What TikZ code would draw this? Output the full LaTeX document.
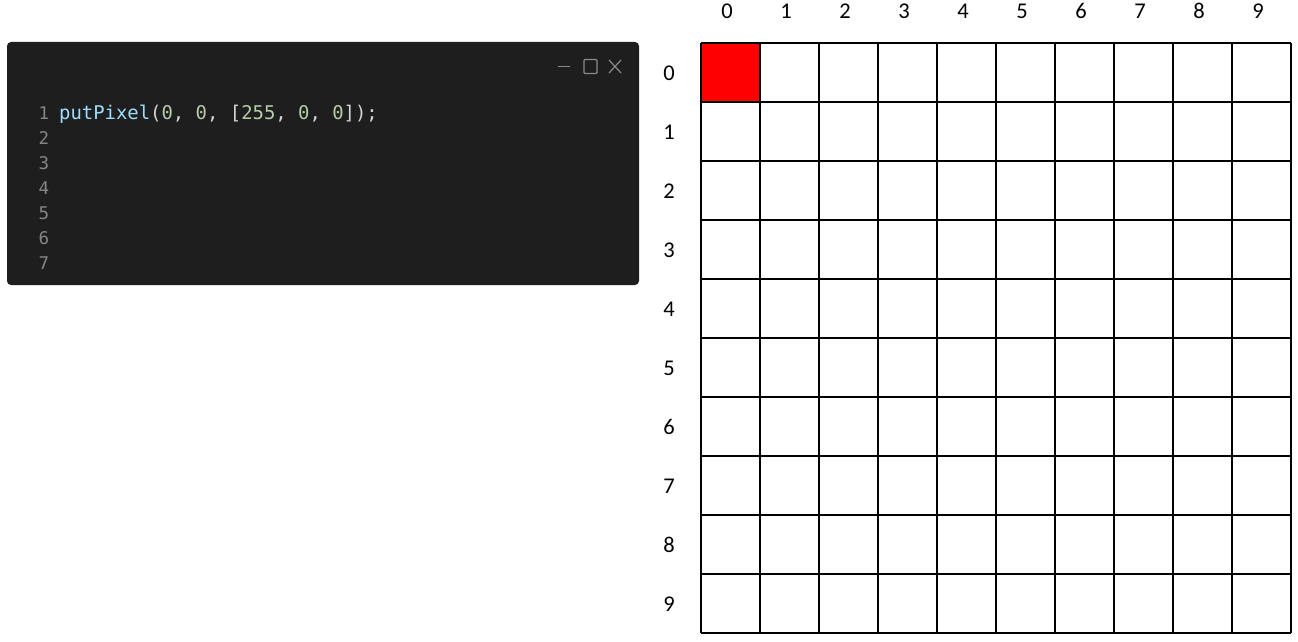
\documentclass[tikz,border=0pt]{standalone}
\usepackage{fontspec}
\setmainfont{Carlito}
\newfontfamily\codefont{DejaVu Sans Mono}
\definecolor{panelbg}{HTML}{1E1E1E}
\definecolor{lnum}{HTML}{858585}
\definecolor{fnc}{HTML}{9CDCFE}
\definecolor{numc}{HTML}{B5CEA8}
\definecolor{punc}{HTML}{D4D4D4}
\definecolor{ctrl}{HTML}{8A8A8A}
\tikzset{
  lbl/.style={font=\fontsize{22.5}{26}\selectfont, text=black, inner sep=0pt},
  lnlbl/.style={font=\codefont\fontsize{17.5}{20}\selectfont, text=lnum, inner sep=0pt},
  codelbl/.style={font=\codefont\fontsize{18.9}{22}\selectfont, inner sep=0pt, anchor=base west},
  cell/.style={draw=black, line width=1.8pt},
}
\begin{document}
\begin{tikzpicture}[x=1pt,y=-1pt]
\useasboundingbox (0,0) rectangle (1298,642);
\fill[white] (0,0) rectangle (1298,642);
% code panel
\fill[panelbg, rounded corners=4pt] (7,42) rectangle (639,285);
% window controls
\draw[ctrl, line width=1.2pt] (558,66.5) -- (570,66.5);
\draw[ctrl, line width=1.2pt, rounded corners=1pt] (584,59.5) rectangle (597,73.5);
\draw[ctrl, line width=1.2pt] (609,60) -- (621,73) (609,73) -- (621,60);
% line numbers
\foreach \i in {1,...,7} {
  \node[lnlbl] (ln\i) at (44,{113+25*(\i-1)}) {\i};
}
\node[codelbl] (code) at (59,119) {\textcolor{fnc}{putPixel}\textcolor{punc}{(}\textcolor{numc}{0}\textcolor{punc}{, }\textcolor{numc}{0}\textcolor{punc}{, [}\textcolor{numc}{255}\textcolor{punc}{, }\textcolor{numc}{0}\textcolor{punc}{, }\textcolor{numc}{0}\textcolor{punc}{]);}};
% grid
\fill[red] (701,43) rectangle (760,102);
\foreach \i in {0,...,10} {
  \draw[cell] ({701+59*\i},43) -- ({701+59*\i},633);
  \draw[cell] (701,{43+59*\i}) -- (1291,{43+59*\i});
}
\foreach \i in {0,...,9} {
  \node[lbl] (col\i) at ({727+59*\i},11) {\i};
  \node[lbl] (row\i) at (669,{73+59*\i}) {\i};
}
\end{tikzpicture}
\end{document}
